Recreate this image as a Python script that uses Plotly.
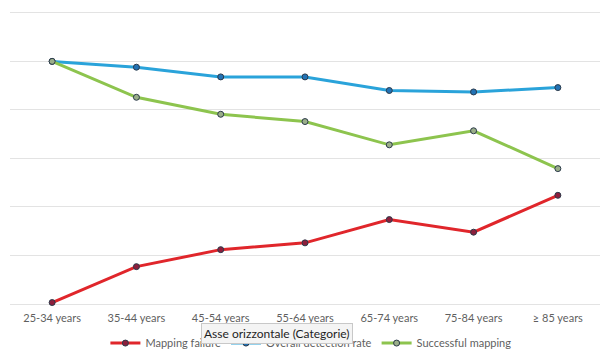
import plotly.graph_objects as go

categories = ["25-34 years", "35-44 years", "45-54 years", "55-64 years",
              "65-74 years", "75-84 years", "≥ 85 years"]
mapping_failure = [0.3, 7.7, 11.2, 12.6, 17.4, 14.8, 22.4]
overall_detection = [50.0, 48.8, 46.8, 46.8, 44.0, 43.7, 44.6]
successful_mapping = [50.0, 42.6, 39.1, 37.6, 32.8, 35.7, 27.9]

RED = "#E0262B"
BLUE = "#2AA3DA"
GREEN = "#8DC44E"
GRID = "#E3E3E3"
TICK = "#5F5F5F"

fig = go.Figure()

series = [
    ("Mapping failure", mapping_failure, RED, "#8C1F3C"),
    ("Overall detection rate", overall_detection, BLUE, "#2272B5"),
    ("Successful mapping", successful_mapping, GREEN, "#9AAE8A"),
]
for name, vals, col, mfill in series:
    fig.add_trace(go.Scatter(
        x=categories, y=vals, name=name, mode="lines+markers",
        line=dict(color=col, width=3),
        marker=dict(size=6, color=mfill, line=dict(color="#2B3A4A", width=1)),
        cliponaxis=False,
    ))

# tooltip-like box over the axis area
fig.add_annotation(
    text="Asse orizzontale (Categorie)", xref="paper", yref="paper",
    x=0.4525, y=-0.101, xanchor="center", yanchor="middle", showarrow=False,
    font=dict(size=12, color="#1E1E1E", family="Lato, Arial, sans-serif"),
    bgcolor="#F4F4F4", bordercolor="#C8C8C8", borderwidth=1, borderpad=2,
)

fig.update_layout(
    width=600, height=349,
    paper_bgcolor="white", plot_bgcolor="white",
    margin=dict(l=10, r=0, t=8, b=45, autoexpand=False),
    font=dict(family="Lato, Arial, sans-serif", color=TICK, size=11),
    legend=dict(orientation="h", x=0.51, xanchor="center", y=-0.132, yanchor="middle",
                font=dict(size=11, color=TICK), itemwidth=30, tracegroupgap=0),
    showlegend=True,
)
fig.update_xaxes(range=[-0.5, 6.5], showgrid=False, showline=False, ticks="",
                 ticklabelstandoff=6, tickfont=dict(size=11, color=TICK))
fig.update_yaxes(range=[0, 61], dtick=10, showgrid=True, gridcolor=GRID, gridwidth=1,
                 zeroline=True, zerolinecolor=GRID, zerolinewidth=1,
                 showticklabels=False, showline=False)

fig.write_html("out.html", config={"displayModeBar": False},
               post_script="document.body.style.margin='0';")
